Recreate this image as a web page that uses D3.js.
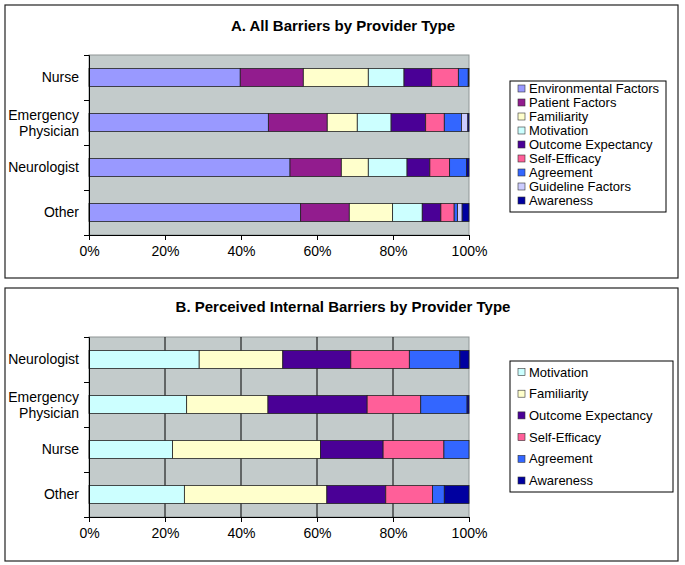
<!doctype html>
<html lang="en">
  <head>
    <meta charset="utf-8">
    <title>Barriers by Provider Type</title>
    <script src="https://cdn.jsdelivr.net/npm/d3@7"></script>
    <style>
      body { margin: 0; background: #fff; }
      text { font-family: "Liberation Sans", Arial, sans-serif; fill: #000; }
    </style>
  </head>
  <body>
    <script>
      // ---- data (percent of barriers) ----
      const providersA = ["Nurse", "Emergency Physician", "Neurologist", "Other"];
      const seriesA = ["Environmental Factors", "Patient Factors", "Familiarity", "Motivation",
                       "Outcome Expectancy", "Self-Efficacy", "Agreement", "Guideline Factors", "Awareness"];
      const environmentalA = [39.8, 47.2, 52.9, 55.7];
      const patientA       = [16.6, 15.5, 13.5, 12.8];
      const familiarityA   = [17.1, 7.9, 7.1, 11.4];
      const motivationA    = [9.4, 8.9, 10.2, 7.8];
      const outcomeA       = [7.3, 9.1, 6.0, 4.9];
      const selfEfficacyA  = [7.0, 4.9, 5.2, 3.5];
      const agreementA     = [2.6, 4.5, 4.5, 0.9];
      const guidelineA     = [0, 1.7, 0, 1.2];
      const awarenessA     = [0.2, 0.3, 0.6, 1.8];

      const providersB = ["Neurologist", "Emergency Physician", "Nurse", "Other"];
      const seriesB = ["Motivation", "Familiarity", "Outcome Expectancy", "Self-Efficacy", "Agreement", "Awareness"];
      const motivationB   = [29.0, 25.7, 22.0, 25.1];
      const familiarityB  = [22.0, 21.4, 38.9, 37.5];
      const outcomeB      = [17.9, 26.1, 16.5, 15.5];
      const selfEfficacyB = [15.4, 14.1, 16.0, 12.3];
      const agreementB    = [13.3, 12.2, 6.6, 3.1];
      const awarenessB    = [2.4, 0.5, 0, 6.5];

      const xTicks = [0, 0.2, 0.4, 0.6, 0.8, 1];

      const colors = {
        "Environmental Factors": "#9999ff",
        "Patient Factors": "#921c8e",
        "Familiarity": "#ffffcc",
        "Motivation": "#ccffff",
        "Outcome Expectancy": "#4a0096",
        "Self-Efficacy": "#ff5f99",
        "Agreement": "#3366ff",
        "Guideline Factors": "#ccccff",
        "Awareness": "#0000a0"
      };

      const w = 685, h = 565;
      const svg = d3.select("body").append("svg").attr("width", w).attr("height", h);
      svg.append("rect").attr("width", w).attr("height", h).attr("fill", "#fff");

      function rows(providers, series, arrays) {
        return providers.map((p, i) => {
          const r = { provider: p };
          series.forEach((s, j) => { r[s] = arrays[j][i]; });
          return r;
        });
      }

      function panel(opt) {
        const g = svg.append("g");
        g.append("rect")
          .attr("x", opt.box[0]).attr("y", opt.box[1])
          .attr("width", opt.box[2]).attr("height", opt.box[3])
          .attr("fill", "#fff").attr("stroke", "#222").attr("stroke-width", 1.2);

        g.append("text")
          .attr("x", 343).attr("y", opt.titleY)
          .attr("text-anchor", "middle")
          .attr("font-size", 15).attr("font-weight", "bold")
          .text(opt.title);

        const x = d3.scaleLinear().domain([0, 1]).range([89, 469]);
        const y = d3.scaleBand().domain(opt.providers).range([opt.top, opt.top + 180])
                    .paddingInner(0.6).paddingOuter(0.3);
        const yEdge = d3.scaleLinear().domain([0, 4]).range([opt.top, opt.top + 180]);

        // plot area
        g.append("rect")
          .attr("x", x(0)).attr("y", opt.top)
          .attr("width", x(1) - x(0)).attr("height", 180)
          .attr("fill", "#c3cbcb").attr("stroke", "#8f9696").attr("stroke-width", 1);

        if (opt.grid) {
          g.append("g").selectAll("line").data(xTicks.slice(1, -1)).join("line")
            .attr("x1", d => x(d)).attr("x2", d => x(d))
            .attr("y1", opt.top).attr("y2", opt.top + 180)
            .attr("stroke", "#000").attr("stroke-width", 1);
        }

        const stack = d3.stack().keys(opt.series).offset(d3.stackOffsetExpand);
        const layers = stack(rows(opt.providers, opt.series, opt.arrays));

        g.append("g").selectAll("g").data(layers).join("g")
          .attr("fill", d => colors[d.key])
          .selectAll("rect").data(d => d.filter(s => s[1] - s[0] > 0)).join("rect")
          .attr("x", d => x(d[0]))
          .attr("y", d => y(d.data.provider))
          .attr("width", d => x(d[1]) - x(d[0]))
          .attr("height", y.bandwidth())
          .attr("stroke", "#222").attr("stroke-width", 0.8);

        // axes
        const xAxis = d3.axisBottom(x).tickValues(xTicks).tickFormat(d3.format(".0%"))
                        .tickSize(5).tickPadding(6);
        const gx = g.append("g").attr("transform", `translate(0,${opt.top + 180})`).call(xAxis);
        gx.selectAll("text").attr("font-size", 14).attr("font-family", null);
        gx.selectAll("path, line").attr("stroke", "#000");

        const yAxis = d3.axisLeft(yEdge).tickValues([0, 1, 2, 3, 4]).tickFormat("").tickSize(5);
        const gy = g.append("g").attr("transform", `translate(${x(0)},0)`).call(yAxis);
        gy.selectAll("path, line").attr("stroke", "#000");

        // category labels
        const lab = g.append("g").selectAll("text").data(opt.providers).join("text")
          .attr("x", 79)
          .attr("y", d => y(d) + y.bandwidth() / 2)
          .attr("text-anchor", "end")
          .attr("font-size", 14);
        lab.each(function (d) {
          const words = d.split(" ");
          const t = d3.select(this);
          words.forEach((wd, i) => {
            t.append("tspan").attr("x", 79)
              .attr("dy", i === 0 ? (0.35 - (words.length - 1) * 0.55) + "em" : "1.15em")
              .text(wd);
          });
        });

        // legend
        const lb = opt.legend;
        g.append("rect")
          .attr("x", lb.x).attr("y", lb.y).attr("width", lb.w).attr("height", lb.h)
          .attr("fill", "#fff").attr("stroke", "#000").attr("stroke-width", 1);
        const items = g.append("g").selectAll("g").data(opt.series).join("g")
          .attr("transform", (d, i) => `translate(${lb.x + 8},${lb.first + i * lb.step})`);
        items.append("rect")
          .attr("x", 0).attr("y", -3.5).attr("width", 7).attr("height", 7)
          .attr("fill", d => colors[d]).attr("stroke", "#333").attr("stroke-width", 0.6);
        items.append("text")
          .attr("x", 11).attr("y", 0).attr("dy", "0.35em")
          .attr("font-size", 13)
          .text(d => d);
      }

      panel({
        box: [5, 5, 673, 273], title: "A. All Barriers by Provider Type", titleY: 31,
        top: 55, providers: providersA, series: seriesA, grid: false,
        arrays: [environmentalA, patientA, familiarityA, motivationA, outcomeA,
                 selfEfficacyA, agreementA, guidelineA, awarenessA],
        legend: { x: 510, y: 81, w: 156, h: 131, first: 88.5, step: 14 }
      });

      panel({
        box: [5, 288, 673, 273], title: "B. Perceived Internal Barriers by Provider Type", titleY: 312,
        top: 337, providers: providersB, series: seriesB, grid: true,
        arrays: [motivationB, familiarityB, outcomeB, selfEfficacyB, agreementB, awarenessB],
        legend: { x: 510, y: 361, w: 163, h: 131, first: 372, step: 21.7 }
      });
    </script>
  </body>
</html>
